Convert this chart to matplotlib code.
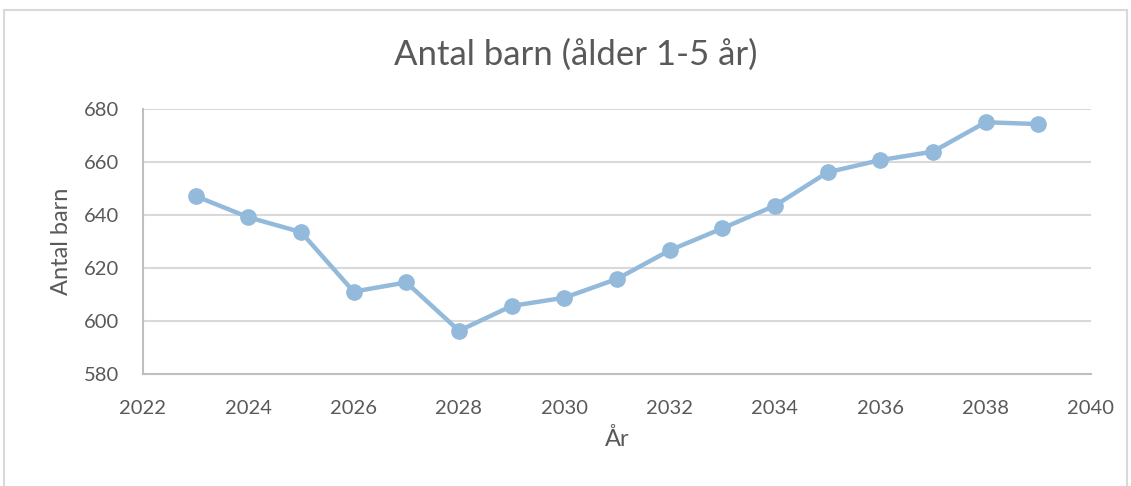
import matplotlib
matplotlib.use("Agg")
import matplotlib.pyplot as plt
from matplotlib.patches import Rectangle

years = [2023, 2024, 2025, 2026, 2027, 2028, 2029, 2030, 2031, 2032,
         2033, 2034, 2035, 2036, 2037, 2038, 2039]
antal = [647.1, 639.1, 633.5, 611.0, 614.5, 596.2, 605.6, 608.7, 615.8, 626.6,
         634.9, 643.5, 656.1, 660.7, 663.9, 675.0, 674.3]
x_ticks = list(range(2022, 2041, 2))
y_ticks = list(range(580, 681, 20))
title = "Antal barn (ålder 1-5 år)"
xlabel = "År"
ylabel = "Antal barn"

W, H = 1131, 486
fig = plt.figure(figsize=(W / 100, H / 100), dpi=100)
plt.rcParams['font.family'] = ['Lato', 'DejaVu Sans']
txt = '#595959'

# outer chart frame
fig.patches.append(Rectangle((4 / W, -0.1), (1127 - 4) / W, 1.1 - 10 / H,
                             transform=fig.transFigure, fill=False,
                             edgecolor='#D9D9D9', linewidth=1.5))

ax = fig.add_axes([143 / W, 1 - 373.7 / H, (1091 - 143) / W, (373.7 - 109) / H])
ax.plot(years, antal, color='#93BADB', linewidth=3.2, marker='o',
        markersize=11, zorder=3, clip_on=False)
ax.set_xlim(2022, 2040)
ax.set_ylim(580, 680)
ax.set_xticks(x_ticks)
ax.set_yticks(y_ticks)
ax.grid(axis='y', color='#D9D9D9', linewidth=1.5)
ax.set_axisbelow(True)
for s in ['top', 'right']:
    ax.spines[s].set_visible(False)
ax.spines['bottom'].set_color('#BFBFBF')
ax.spines['left'].set_color('#BFBFBF')
ax.spines['bottom'].set_linewidth(1.5)
ax.spines['left'].set_linewidth(1.5)
ax.tick_params(axis='both', length=0, labelsize=14.5, labelcolor=txt)
ax.tick_params(axis='x', pad=19)
ax.tick_params(axis='y', pad=17)
ax.set_xlabel(xlabel, fontsize=17, color=txt, labelpad=8)
ax.set_ylabel(ylabel, fontsize=17, color=txt, labelpad=9)
fig.text(576 / W, 1 - 55 / H, title, fontsize=25, color=txt,
         ha='center', va='center')

fig.savefig('out.png', dpi=100)
